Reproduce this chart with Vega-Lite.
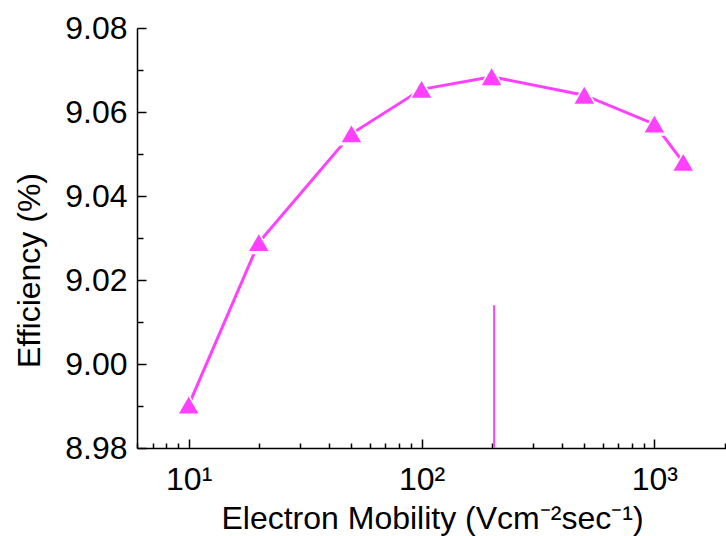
{
  "$schema": "https://vega.github.io/schema/vega-lite/v6.json",
  "width": 590,
  "height": 420,
  "autosize": {"type": "none"},
  "padding": {"left": 137, "top": 28, "right": 0, "bottom": 88},
  "background": "white",
  "config": {
    "view": {"stroke": null},
    "axis": {"grid": false, "domainColor": "black", "domainWidth": 1.5, "tickColor": "black", "tickWidth": 1.5, "labelFont": "Liberation Sans", "titleFont": "Liberation Sans", "labelColor": "black", "titleColor": "black", "titleFontWeight": "normal", "labelFontSize": 32, "titleFontSize": 32}
  },
  "datasets": {
    "eff": [
      {"mobility": 10, "efficiency": 8.9902},
      {"mobility": 20, "efficiency": 9.0289},
      {"mobility": 50, "efficiency": 9.0548},
      {"mobility": 100, "efficiency": 9.0654},
      {"mobility": 200, "efficiency": 9.0684},
      {"mobility": 500, "efficiency": 9.064},
      {"mobility": 1000, "efficiency": 9.0571},
      {"mobility": 1330, "efficiency": 9.048}
    ],
    "marker": [
      {"mobility": 205, "top": 9.014, "bottom": 8.98}
    ]
  },
  "layer": [
    {
      "data": {"name": "eff"},
      "mark": {"type": "line", "color": "#ff40ff", "strokeWidth": 3},
      "encoding": {
        "x": {
          "field": "mobility", "type": "quantitative",
          "scale": {"type": "log", "domain": [6, 2050], "nice": false},
          "axis": {
            "title": "Electron Mobility (Vcm⁻²sec⁻¹)",
            "titlePadding": 8,
            "values": [6,7,8,9,10,20,30,40,50,60,70,80,90,100,200,300,400,500,600,700,800,900,1000,2000],
            "labelExpr": "datum.value == 10 ? '10¹' : datum.value == 100 ? '10²' : datum.value == 1000 ? '10³' : ''",
            "tickSize": {"condition": {"test": "datum.value == 10 || datum.value == 100 || datum.value == 1000", "value": -9}, "value": -5},
            "labelPadding": 25,
            "labelFlush": false
          }
        },
        "y": {
          "field": "efficiency", "type": "quantitative",
          "scale": {"domain": [8.98, 9.08], "nice": false, "zero": false},
          "axis": {
            "title": "Efficiency (%)",
            "titlePadding": 18,
            "titleY": 242,
            "values": [8.98,8.99,9.0,9.01,9.02,9.03,9.04,9.05,9.06,9.07,9.08],
            "labelExpr": "round(datum.value*100) % 2 == 0 ? format(datum.value, '.2f') : ''",
            "tickSize": {"condition": {"test": "round(datum.value*100) % 2 == 0", "value": -9}, "value": -6},
            "labelPadding": 19
          }
        }
      }
    },
    {
      "data": {"name": "eff"},
      "mark": {"type": "point", "shape": "triangle-up", "filled": true, "color": "white", "opacity": 1, "size": 720},
      "encoding": {
        "x": {"field": "mobility", "type": "quantitative"},
        "y": {"field": "efficiency", "type": "quantitative"}
      }
    },
    {
      "data": {"name": "eff"},
      "mark": {"type": "point", "shape": "triangle-up", "filled": true, "color": "#ff40ff", "opacity": 1, "size": 380},
      "encoding": {
        "x": {"field": "mobility", "type": "quantitative"},
        "y": {"field": "efficiency", "type": "quantitative"}
      }
    },
    {
      "data": {"name": "marker"},
      "mark": {"type": "rule", "color": "#ff40ff", "strokeWidth": 2},
      "encoding": {
        "x": {"field": "mobility", "type": "quantitative"},
        "y": {"field": "top", "type": "quantitative"},
        "y2": {"field": "bottom"}
      }
    }
  ]
}
